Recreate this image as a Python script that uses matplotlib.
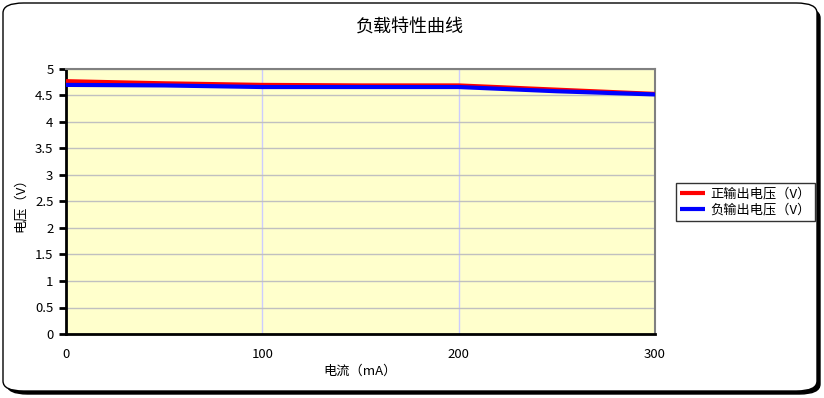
import matplotlib
matplotlib.use('Agg')
import matplotlib.pyplot as plt
from matplotlib.patches import FancyBboxPatch

plt.rcParams['font.family'] = ['Noto Sans CJK SC', 'DejaVu Sans']

# data
current_ma = [0, 50, 100, 150, 200, 250, 300]
pos_voltage = [4.77, 4.73, 4.70, 4.69, 4.69, 4.61, 4.53]
neg_voltage = [4.70, 4.69, 4.66, 4.66, 4.66, 4.58, 4.52]
y_ticks = [0, 0.5, 1, 1.5, 2, 2.5, 3, 3.5, 4, 4.5, 5]
x_ticks = [0, 100, 200, 300]

fig = plt.figure(figsize=(8.24, 3.98), dpi=100)
fig.patch.set_facecolor('white')

# rounded chart frame with a dark shadow, kept behind the axes
shadow = FancyBboxPatch((7 / 824, 4 / 398), 813 / 824, 386 / 398,
                        boxstyle='round,pad=0,rounding_size=0.025',
                        transform=fig.transFigure, facecolor='black',
                        edgecolor='black', linewidth=1, zorder=-2)
frame = FancyBboxPatch((3 / 824, 7 / 398), 814 / 824, 388 / 398,
                       boxstyle='round,pad=0,rounding_size=0.025',
                       transform=fig.transFigure, facecolor='white',
                       edgecolor='black', linewidth=1, zorder=-1)
fig.patches.extend([shadow, frame])

ax = fig.add_axes([66 / 824, 1 - 334 / 398, 589 / 824, 265 / 398])
ax.set_facecolor('#FFFFCC')

ax.plot(current_ma, pos_voltage, color='#FF0000', linewidth=3,
        label='正输出电压（V）', zorder=3, solid_capstyle='butt')
ax.plot(current_ma, neg_voltage, color='#0000FF', linewidth=3,
        label='负输出电压（V）', zorder=4, solid_capstyle='butt')

ax.set_xlim(0, 300)
ax.set_ylim(0, 5)
ax.set_xticks(x_ticks)
ax.set_yticks(y_ticks)
ax.set_yticklabels([f'{v:g}' for v in y_ticks])

ax.yaxis.grid(True, color='#C0C0C0', linewidth=1)
ax.xaxis.grid(True, color='#CCCCFF', linewidth=1)
ax.set_axisbelow(True)

for side in ['top', 'right']:
    ax.spines[side].set_color('#808080')
    ax.spines[side].set_linewidth(1.5)
for side in ['left', 'bottom']:
    ax.spines[side].set_color('black')
    ax.spines[side].set_linewidth(2)

ax.tick_params(axis='y', direction='out', length=5, width=2, labelsize=9.5, pad=4)
ax.tick_params(axis='x', direction='out', length=0, labelsize=9.5, pad=10)

ax.set_xlabel('电流（mA）', fontsize=9.5, labelpad=3)
ax.set_ylabel('电压（V）', fontsize=9.5, labelpad=6)

fig.text(410 / 824, 1 - 28 / 398, '负载特性曲线', ha='center', va='center', fontsize=13)

leg = ax.legend(loc='center left', bbox_to_anchor=(676 / 824, 1 - 202 / 398),
                bbox_transform=fig.transFigure, fontsize=9.5, frameon=True,
                fancybox=False, borderpad=0.3, handlelength=1.9,
                handletextpad=0.4, labelspacing=0.25, borderaxespad=0)
leg.get_frame().set_edgecolor('black')
leg.get_frame().set_linewidth(1)

fig.savefig('out.png', dpi=100)
